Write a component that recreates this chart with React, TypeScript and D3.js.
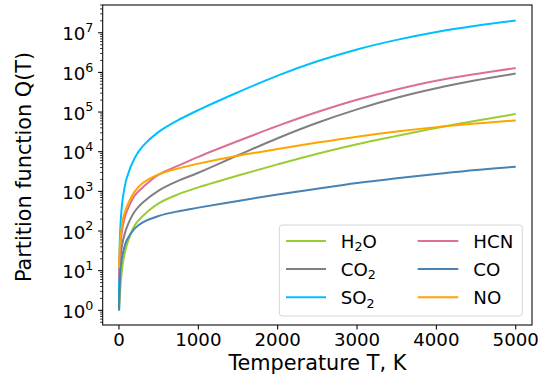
import React from "react";
import * as d3 from "d3";

// Temperature grid (K)
const temps = [1, 10, 25, 50, 100, 200, 300, 500, 750, 1000, 1500, 2000, 2500, 3000, 3500, 4000, 4500, 5000];

// Partition function Q(T) per molecule
const qH2O = [1, 2, 5.6, 16, 45, 141, 240, 500, 850, 1260, 2510, 4790, 8910, 15500, 25100, 39800, 60300, 89100];
const qCO2 = [1, 10, 28, 56, 126, 316, 525, 1050, 1860, 2950, 8130, 21900, 53700, 117000, 229000, 398000, 631000, 933000];
const qSO2 = [1, 50, 224, 708, 2240, 7080, 13800, 31600, 63100, 112000, 316000, 832000, 1910000, 3800000, 6610000, 10500000, 15100000, 20400000];
const qHCN = [6.3, 20, 56, 141, 316, 794, 1260, 2630, 4470, 7410, 18600, 44700, 100000, 204000, 372000, 617000, 912000, 1290000];
const qCO = [1, 5.6, 14, 28, 60, 117, 166, 240, 316, 389, 575, 832, 1170, 1620, 2140, 2750, 3470, 4170];
const qNO = [11.7, 40, 89, 200, 417, 1000, 1620, 2690, 3800, 5010, 7940, 11700, 17000, 24000, 32400, 41700, 51300, 61700];

const xTicks = [0, 1000, 2000, 3000, 4000, 5000];
const yExponents = [0, 1, 2, 3, 4, 5, 6, 7];

type Species = { base: string; sub?: string; tail?: string; color: string; q: number[] };

const species: Species[] = [
  { base: "H", sub: "2", tail: "O", color: "#9acd32", q: qH2O },
  { base: "CO", sub: "2", color: "#808080", q: qCO2 },
  { base: "SO", sub: "2", color: "#00bfff", q: qSO2 },
  { base: "HCN", color: "#db7093", q: qHCN },
  { base: "CO", color: "#4682b4", q: qCO },
  { base: "NO", color: "#ffa500", q: qNO },
];

const W = 539;
const H = 379;
const left = 102.7;
const right = 532;
const top = 5;
const bottom = 325;

const FONT = "DejaVu Sans, sans-serif";

export default function App() {
  const x = d3.scaleLinear().domain([-205, 5205]).range([left, right]);
  const y = d3.scaleLog().domain([Math.pow(10, -0.37), Math.pow(10, 7.70)]).range([bottom, top]);

  const line = d3
    .line<[number, number]>()
    .x((d) => x(d[0]))
    .y((d) => y(d[1]))
    .curve(d3.curveCatmullRom.alpha(0.5));

  // minor log ticks
  const minor: number[] = [];
  for (let e = -1; e <= 7; e++) {
    for (let m = 2; m <= 9; m++) {
      const v = m * Math.pow(10, e);
      if (v >= y.domain()[0] && v <= y.domain()[1]) minor.push(v);
    }
  }

  const legendLeft = 279.3;
  const legendTop = 225;
  const legendW = 243;
  const legendH = 91;
  const rowY = [241, 269.1, 297.3];
  const colLineX = [[286, 326], [417.7, 458.3]];
  const colTextX = [340.7, 473.3];

  const label = (s: Species) => (
    <>
      {s.base}
      {s.sub ? (
        <tspan fontSize={12.7} dy={3.7}>
          {s.sub}
        </tspan>
      ) : null}
      {s.tail ? <tspan dy={-3.7}>{s.tail}</tspan> : null}
    </>
  );

  return (
    <svg width={W} height={H} style={{ position: "absolute", left: 0, top: 0, background: "#fff" }} fontFamily={FONT}>
      <defs>
        <clipPath id="plotClip">
          <rect x={left} y={top} width={right - left} height={bottom - top} />
        </clipPath>
      </defs>
      <rect x={0} y={0} width={W} height={H} fill="#fff" />

      <g clipPath="url(#plotClip)">
        {species.map((s, i) => {
          const pts = temps.map((t, k) => [t, s.q[k]] as [number, number]);
          return <path key={i} d={line(pts) || ""} fill="none" stroke={s.color} strokeWidth={2} strokeLinejoin="round" />;
        })}
      </g>

      {/* axes frame */}
      <rect x={left} y={top} width={right - left} height={bottom - top} fill="none" stroke="#000" strokeWidth={1.05} />

      {/* x ticks */}
      {xTicks.map((t) => (
        <g key={t}>
          <line x1={x(t)} x2={x(t)} y1={bottom} y2={bottom + 4.6} stroke="#000" strokeWidth={1.05} />
          <text x={x(t)} y={345.5} textAnchor="middle" fontSize={18.2} fill="#000">
            {t}
          </text>
        </g>
      ))}

      {/* y ticks */}
      {minor.map((v, i) => (
        <line key={"m" + i} x1={left} x2={left - 2.6} y1={y(v)} y2={y(v)} stroke="#000" strokeWidth={0.8} />
      ))}
      {yExponents.map((e) => {
        const yy = y(Math.pow(10, e));
        return (
          <g key={e}>
            <line x1={left} x2={left - 4.6} y1={yy} y2={yy} stroke="#000" strokeWidth={1.05} />
            <text x={left - 9.3} y={yy + 7.5} textAnchor="end" fontSize={18.2} fill="#000">
              10
              <tspan fontSize={12.7} dy={-8.2}>
                {e}
              </tspan>
            </text>
          </g>
        );
      })}

      {/* axis labels */}
      <text x={(left + right) / 2} y={370} textAnchor="middle" fontSize={20.8} fill="#000">
        Temperature T, K
      </text>
      <text
        transform={`translate(30.5, ${(top + bottom) / 2 + 2}) rotate(-90)`}
        textAnchor="middle"
        fontSize={20.8}
        fill="#000"
      >
        Partition function Q(T)
      </text>

      {/* legend */}
      <rect
        x={legendLeft}
        y={legendTop}
        width={legendW}
        height={legendH}
        rx={3}
        fill="#fff"
        fillOpacity={0.8}
        stroke="#d6d6d6"
        strokeWidth={1}
      />
      {species.map((s, i) => {
        const col = Math.floor(i / 3);
        const row = i % 3;
        const ly = rowY[row];
        return (
          <g key={"lg" + i}>
            <line x1={colLineX[col][0]} x2={colLineX[col][1]} y1={ly} y2={ly} stroke={s.color} strokeWidth={2} />
            <text x={colTextX[col]} y={ly + 6.5} fontSize={18.2} fill="#000">
              {label(s)}
            </text>
          </g>
        );
      })}
    </svg>
  );
}
